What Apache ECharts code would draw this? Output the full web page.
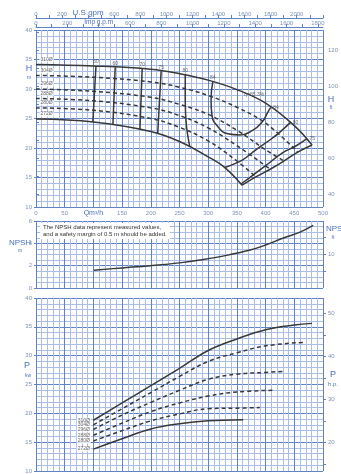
<!DOCTYPE html>
<html><head><meta charset="utf-8">
<script src="https://cdn.jsdelivr.net/npm/echarts@6/dist/echarts.min.js"></script>
<style>html,body{margin:0;padding:0;background:#fff}#c{width:341px;height:474px}</style>
</head><body><div id="c"></div>
<script>
// ---------- data ----------
const diameters = ['310Ø','304Ø','296Ø','288Ø','280Ø','272Ø'];
const qTicks = [0,50,100,150,200,250,300,350,400,450,500];
const usGpmTicks = [0,200,400,600,800,1000,1200,1400,1600,1800,2000];
const impGpmTicks = [0,200,400,600,800,1000,1200,1400,1600,1800];
const headFtTicks = [40,60,80,100,120];
const npshFtTicks = [10];
const powerHpTicks = [20,30,40,50];

const head310 = [[0,34.15],[100,33.9],[200,33.35],[250,32.6],[300,31.5],[350,29.9],[400,27.6],[450,23.8],[481,20.5]];
const head304 = [[0,32.3],[100,32.0],[200,31.2],[250,30.3],[300,28.9],[350,26.9],[400,24.2],[456,19.3]];
const head296 = [[0,30.0],[100,29.6],[200,28.6],[250,27.4],[300,25.7],[350,23.0],[400,19.7],[432,17.8]];
const head288 = [[0,28.4],[100,28.0],[200,26.8],[250,25.5],[300,23.4],[350,20.4],[408,16.4]];
const head280 = [[0,26.8],[100,26.4],[200,25.0],[250,23.5],[300,21.2],[350,17.8],[383,15.1]];
const head272 = [[0,24.9],[100,24.4],[200,22.8],[250,21.1],[300,18.5],[330,16.6],[359,13.7]];

const iso50 = [[104.5,33.9],[99,24.4]];
const iso60 = [[138,33.7],[134,23.9]];
const iso70 = [[185,33.45],[181,23.1]];
const iso75 = [[218,33.0],[212,22.4]];
const iso80L = [[260,32.4],[260,28.1],[262,23.9],[268,20.2]];
const iso84 = [[308,31.3],[305,28.1],[306.5,25.6],[317,23.6],[334.5,22.4],[355,22.2],[376,22.9],[394,24.4],[404,26.1],[409,26.9]];
const iso80R = [[443,24.3],[425,22.7],[408,21.4],[383,19.7],[360,18.0],[329,16.7]];
const iso75R = [[472,21.6],[452,20.3],[430,19.2],[400,17.0],[378,15.4],[357,13.9]];
const endLine = [[481,20.5],[456,19.3],[432,17.8],[408,16.4],[383,15.1],[359,13.7]];

const effLabelsTop = [[104.5,33.9,'50'],[138,33.7,'60'],[185,33.45,'70'],[218,33.0,'75'],[260,32.4,'80'],[308,31.3,'84']];
const effLabelsRight = [[409,26.9,'84'],[443,24.3,'80'],[472,21.6,'75']];
const bepLabel = [[362,29.0,'η=85.3%']];

const npsh = [[101,1.6],[150,1.8],[199,2.0],[250,2.25],[286,2.5],[330,2.9],[373,3.4],[400,3.85],[430,4.45],[460,5.0],[483,5.6]];

const pow310 = [[100,18.8],[150,21.8],[200,24.8],[250,27.8],[300,30.9],[350,32.9],[400,34.5],[450,35.3],[481,35.6]];
const pow304 = [[100,18.0],[150,20.8],[200,23.6],[250,26.4],[300,29.0],[350,30.5],[400,31.7],[465,32.3]];
const pow296 = [[100,17.2],[150,19.7],[200,21.9],[250,24.0],[300,25.9],[350,26.8],[400,27.1],[434,27.3]];
const pow288 = [[100,16.2],[150,18.3],[200,20.3],[250,21.8],[300,23.0],[350,23.7],[413,24.0]];
const pow280 = [[100,15.2],[150,17.0],[200,18.7],[250,19.9],[300,20.8],[350,20.9],[390,21.0]];
const pow272 = [[100,13.8],[150,15.6],[200,17.3],[250,18.2],[300,18.7],[361,18.9]];

const noteText = 'The NPSH data represent measured values,\nand a safety margin of 0.5 m should be added.';

// ---------- styles ----------
const MAJ = '#5f83c8', MIN = '#a9bde6', TXT = '#7f92b6', UNIT = '#4a70bf', CURVE = '#383838';
const FONT = 'Liberation Sans';
const lbl = (extra) => Object.assign({fontSize:6, color:TXT, fontFamily:FONT}, extra||{});

function qAxis(grid, showLabels) {
  return {type:'value', gridIndex:grid, min:0, max:500, interval:50, position:'bottom',
    axisLine:{show:false}, axisTick:{show:false},
    axisLabel: showLabels ? lbl({margin:3, formatter:v => v===100 ? '{u|Qm³/h}' : String(v),
      rich:{u:{fontSize:7, color:UNIT, fontFamily:FONT}}}) : {show:false},
    splitLine:{show:true, lineStyle:{color:MAJ, width:1}},
    minorTick:{show:false, splitNumber:5},
    minorSplitLine:{show:true, lineStyle:{color:MIN, width:1}}};
}
function leftAxis(grid, min, max, interval, split) {
  return {type:'value', gridIndex:grid, position:'left', min, max, interval,
    axisLine:{show:false}, axisTick:{show:true, length:2, lineStyle:{color:MAJ}},
    axisLabel:lbl({margin:4}),
    splitLine:{show:true, lineStyle:{color:MAJ, width:1}},
    minorTick:{show:false, splitNumber:split},
    minorSplitLine:{show:true, lineStyle:{color:MIN, width:1}}};
}
function rightAxis(grid, min, max, ticks, minorTicks) {
  return {type:'value', gridIndex:grid, position:'right', min, max,
    axisLine:{show:false},
    axisTick:{show:true, length:3, customValues:minorTicks, lineStyle:{color:MAJ}},
    axisLabel:lbl({margin:5, customValues:ticks}),
    splitLine:{show:false}};
}
function line(data, xi, yi, dashed, smooth) {
  return {type:'line', xAxisIndex:xi, yAxisIndex:yi, data, smooth: smooth===undefined?0.4:smooth,
    symbol:'none', silent:true, z:5,
    lineStyle:{color:CURVE, width:1.5, type: dashed ? [4,3] : 'solid'}};
}
function labels(data, xi, yi, pos, extra) {
  return {type:'scatter', xAxisIndex:xi, yAxisIndex:yi, data, symbolSize:1, silent:true, z:10,
    itemStyle:{color:'rgba(0,0,0,0)'},
    label:Object.assign({show:true, position:pos, distance:1, fontSize:5, color:'#444', fontFamily:FONT,
      formatter:p => p.value[2]}, extra||{})};
}

const option = {
  animation:false,
  backgroundColor:'#fff',
  grid:[
    {left:36, top:30, width:287, height:177},
    {left:36, top:221, width:287, height:67},
    {left:36, top:298, width:287, height:176}
  ],
  xAxis:[
    qAxis(0, true),
    {type:'value', gridIndex:0, position:'top', offset:12, min:0, max:500*4.40287,
      axisLine:{show:true, lineStyle:{color:MAJ}},
      axisTick:{show:true, length:3, customValues:[0,100,200,300,400,500,600,700,800,900,1000,1100,1200,1300,1400,1500,1600,1700,1800,1900,2000,2100,2200], lineStyle:{color:MAJ}},
      axisLabel:lbl({margin:1, customValues:usGpmTicks, formatter:v => v===400 ? '{u|U.S.gpm}' : String(v),
        rich:{u:{fontSize:8, color:UNIT, fontFamily:FONT}}}),
      splitLine:{show:false}},
    {type:'value', gridIndex:0, position:'top', offset:3, min:0, max:500*3.66615,
      axisLine:{show:true, lineStyle:{color:MAJ}},
      axisTick:{show:true, length:3, customValues:[0,100,200,300,400,500,600,700,800,900,1000,1100,1200,1300,1400,1500,1600,1700,1800], lineStyle:{color:MAJ}},
      axisLabel:lbl({margin:1, customValues:impGpmTicks, formatter:v => v===400 ? '{u|Imp g.p.m}' : String(v),
        rich:{u:{fontSize:6.5, color:UNIT, fontFamily:FONT}}}),
      splitLine:{show:false}},
    qAxis(1, false),
    qAxis(2, false)
  ],
  yAxis:[
    leftAxis(0, 10, 40, 5, 5),
    rightAxis(0, 10/0.3048, 40/0.3048, headFtTicks, [40,50,60,70,80,90,100,110,120,130]),
    leftAxis(1, 0, 6, 2, 4),
    rightAxis(1, 0, 6/0.3048, npshFtTicks, [5,10,15]),
    leftAxis(2, 10, 40, 5, 5),
    rightAxis(2, 10/0.7457, 40/0.7457, powerHpTicks, [15,20,25,30,35,40,45,50])
  ],
  series:[
    line(head310,0,0,false), line(head304,0,0,true), line(head296,0,0,true),
    line(head288,0,0,true), line(head280,0,0,true), line(head272,0,0,false),
    line(iso50,0,0,false,false), line(iso60,0,0,false,false), line(iso70,0,0,false,false),
    line(iso75,0,0,false,false), line(iso80L,0,0,false), line(iso84,0,0,false,0.5),
    line(iso80R,0,0,false), line(iso75R,0,0,false), line(endLine,0,0,false),
    labels(effLabelsTop,0,0,'top'),
    labels(effLabelsRight,0,0,'right',{distance:2}),
    labels(bepLabel,0,0,'right',{distance:0}),
    labels([[0,head310[0][1],diameters[0]],[0,head304[0][1],diameters[1]],[0,head296[0][1],diameters[2]],
            [0,head288[0][1],diameters[3]],[0,head280[0][1],diameters[4]],[0,head272[0][1],diameters[5]]],
           0,0,'right',{distance:3, offset:[0,-5], backgroundColor:'#fff', padding:[0,1]}),
    line(npsh,3,2,false),
    line(pow310,4,4,false), line(pow304,4,4,true), line(pow296,4,4,true),
    line(pow288,4,4,true), line(pow280,4,4,true), line(pow272,4,4,false),
    labels([[pow310[0][0],pow310[0][1],diameters[0]],[pow304[0][0],pow304[0][1],diameters[1]],
            [pow296[0][0],pow296[0][1],diameters[2]],[pow288[0][0],pow288[0][1],diameters[3]],
            [pow280[0][0],pow280[0][1],diameters[4]],[pow272[0][0],pow272[0][1],diameters[5]]],
           4,4,'left',{distance:2, backgroundColor:'#fff', padding:[0,1]})
  ],
  graphic:[
    {type:'text', x:29, y:69, style:{text:'H', fontSize:9, fill:UNIT, fontFamily:FONT, align:'center', verticalAlign:'middle'}},
    {type:'text', x:29, y:78, style:{text:'m', fontSize:5, fill:UNIT, fontFamily:FONT, align:'center', verticalAlign:'middle'}},
    {type:'text', x:331, y:100, style:{text:'H', fontSize:9, fill:UNIT, fontFamily:FONT, align:'center', verticalAlign:'middle'}},
    {type:'text', x:331, y:108, style:{text:'ft', fontSize:5, fill:UNIT, fontFamily:FONT, align:'center', verticalAlign:'middle'}},
    {type:'text', x:20, y:243, style:{text:'NPSH', fontSize:8, fill:UNIT, fontFamily:FONT, align:'center', verticalAlign:'middle'}},
    {type:'text', x:20, y:251, style:{text:'m', fontSize:5, fill:UNIT, fontFamily:FONT, align:'center', verticalAlign:'middle'}},
    {type:'text', x:326, y:229, style:{text:'NPSH', fontSize:8, fill:UNIT, fontFamily:FONT, align:'left', verticalAlign:'middle'}},
    {type:'text', x:333, y:238, style:{text:'ft', fontSize:5, fill:UNIT, fontFamily:FONT, align:'center', verticalAlign:'middle'}},
    {type:'text', x:27, y:366, style:{text:'P', fontSize:9, fill:UNIT, fontFamily:FONT, align:'center', verticalAlign:'middle'}},
    {type:'text', x:28, y:376, style:{text:'kw', fontSize:5, fill:UNIT, fontFamily:FONT, align:'center', verticalAlign:'middle'}},
    {type:'text', x:333, y:375, style:{text:'P', fontSize:9, fill:UNIT, fontFamily:FONT, align:'center', verticalAlign:'middle'}},
    {type:'text', x:333, y:384, style:{text:'h.p.', fontSize:6, fill:UNIT, fontFamily:FONT, align:'center', verticalAlign:'middle'}},
    {type:'text', x:40, y:223, z:20, style:{text:noteText, fontSize:6, lineHeight:7, fill:'#333', fontFamily:FONT,
      backgroundColor:'#fff', padding:[1,3], align:'left', verticalAlign:'top'}}
  ]
};
const chart = echarts.init(document.getElementById('c'), null, {renderer:'canvas'});
chart.setOption(option);
</script>
</body></html>
